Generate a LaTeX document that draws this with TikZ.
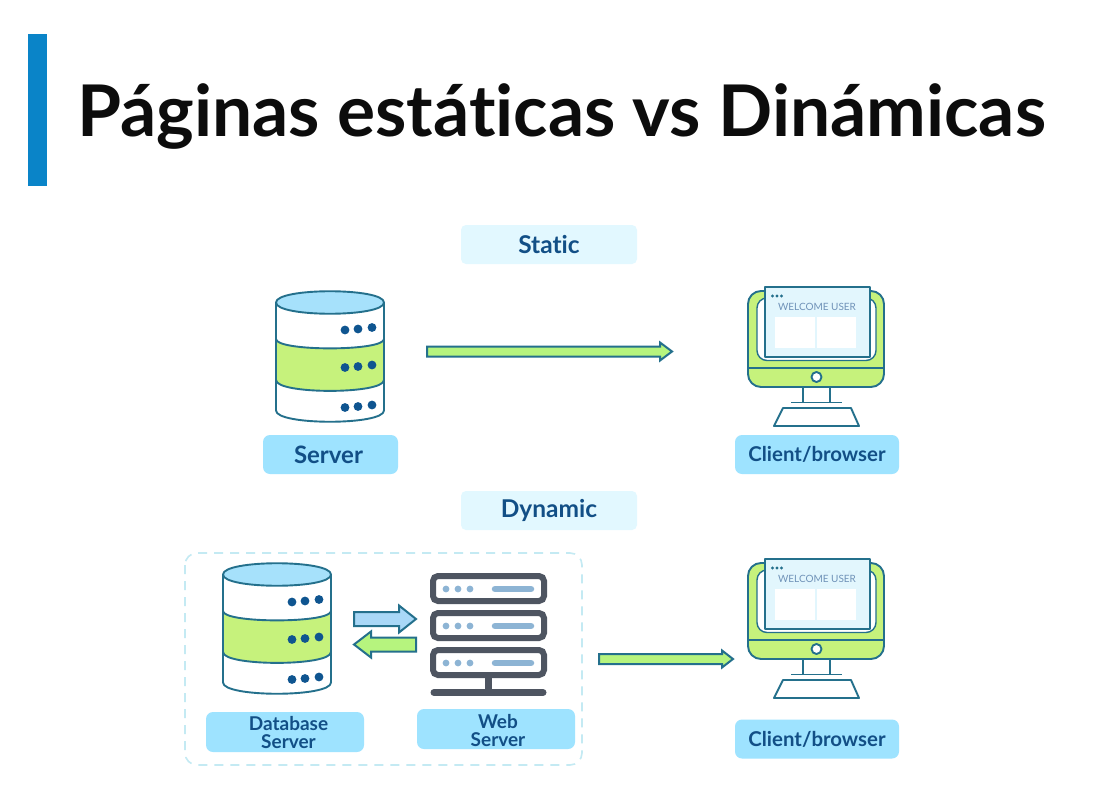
\documentclass[tikz,border=0pt]{standalone}
\usepackage{fontspec}
\setmainfont{Lato}[Ligatures=NoCommon]
\usetikzlibrary{calc}
\definecolor{barblue}{HTML}{0A84C8}
\definecolor{titleink}{HTML}{0C0C0C}
\definecolor{labelink}{HTML}{124F86}
\definecolor{palebox}{HTML}{E2F8FF}
\definecolor{skybox}{HTML}{9EE3FF}
\definecolor{limefill}{HTML}{C6F27C}
\definecolor{arrowlime}{HTML}{B6F47E}
\definecolor{tealline}{HTML}{24708C}
\definecolor{dotblue}{HTML}{0F5590}
\definecolor{topblue}{HTML}{A6E1FB}
\definecolor{dashline}{HTML}{C4EAF3}
\definecolor{rackgrey}{HTML}{4E5561}
\definecolor{rackblue}{HTML}{8DB4D4}
\definecolor{winfill}{HTML}{E2F6FD}
\definecolor{welcome}{HTML}{6F92B8}
\definecolor{arrowblue}{HTML}{A9D8F7}
\tikzset{
  palelabel/.style={fill=palebox,rounded corners=5pt,draw=none,text=labelink,font=\fontsize{24.5}{26}\selectfont\bfseries,minimum width=176pt,minimum height=39pt,inner sep=0pt},
  skylabel/.style={fill=skybox,rounded corners=7pt,draw=none,text=labelink,font=\fontsize{24}{26}\selectfont\bfseries,minimum height=39pt,inner sep=0pt},
  twobox/.style={fill=skybox,rounded corners=7pt,draw=none,minimum width=158pt,minimum height=40pt,inner sep=0pt},
  twotext/.style={text=labelink,align=center,font=\fontsize{19}{18}\selectfont\bfseries,inner sep=0pt},
  iconline/.style={draw=tealline,line width=1.9pt,line join=round},
  blockarrow/.style={draw=tealline,line width=2pt,line join=miter},
  dbdot/.style={fill=dotblue,draw=none},
  rack/.style={draw=rackgrey,fill=white,line width=6pt,rounded corners=5pt},
}
% block arrow between two named coordinates: style, from, to, shaft half, head half, head length
\newcommand{\blockconn}[6]{%
  \coordinate (hh) at ($(#3)!#6!(#2)$);
  \draw[#1] ($(#2)!#4!90:(#3)$) -- ($(hh)!#4!90:(#3)$) -- ($(hh)!#5!90:(#3)$) -- (#3)
    -- ($(hh)!#5!-90:(#3)$) -- ($(hh)!#4!-90:(#3)$) -- ($(#2)!#4!-90:(#3)$) -- cycle;
}
\newcommand{\dbicon}[2]{%
\begin{scope}[shift={(#1,#2)}]
  \path[fill=white] (0,0) -- (0,108) .. controls (0,123) and (108,123) .. (108,108) -- (108,0) -- cycle;
  \path[fill=limefill] (0,36.5) .. controls (0,49) and (108,49) .. (108,36.5) -- (108,77.5)
     .. controls (108,92) and (0,92) .. (0,77.5) -- cycle;
  \draw[iconline] (0,0) -- (0,108) .. controls (0,123) and (108,123) .. (108,108) -- (108,0);
  \draw[iconline] (0,36.5) .. controls (0,49) and (108,49) .. (108,36.5);
  \draw[iconline] (0,77.5) .. controls (0,92) and (108,92) .. (108,77.5);
  \draw[iconline,fill=topblue] (0,0) .. controls (0,-15) and (108,-15) .. (108,0)
     .. controls (108,15) and (0,15) .. (0,0) -- cycle;
  \foreach \yy in {0,37.5,77.5}{
    \fill[dbdot] (69,27.5+\yy) circle (4.4);
    \fill[dbdot] (82,26.5+\yy) circle (4.4);
    \fill[dbdot] (96,25+\yy) circle (4.4);
  }
\end{scope}}
\newcommand{\monitoricon}[2]{%
\begin{scope}[shift={(#1,#2)}]
  \draw[iconline,fill=limefill,rounded corners=13pt] (-17,4) rectangle (119,100);
  \draw[iconline,line width=1.4pt,fill=white,rounded corners=10pt] (-8,11) -- (111,11) -- (111,73.5) -- (-8,73.5) -- cycle;
  \draw[iconline,line width=1.6pt] (-17,81) -- (119,81);
  \draw[iconline,fill=winfill] (0,0) rectangle (105,70);
  \foreach \dx in {7.5,12,16.5} \fill[tealline] (\dx,9) circle (1.6);
  \node[text=welcome,font=\fontsize{10}{10}\selectfont,inner sep=0pt] (wt#1#2) at (52,20) {WELCOME USER};
  \fill[white] (10,30) rectangle (50,61);
  \fill[white] (52,30) rectangle (91,61);
  \draw[iconline,fill=white] (51.5,90) circle (5);
  \draw[iconline] (38,100) -- (38,115);
  \draw[iconline] (65,100) -- (65,115);
  \draw[iconline] (26,115.5) -- (77,115.5);
  \draw[iconline,fill=white] (18,121) -- (86,121) -- (94,139) -- (9,139) -- cycle;
\end{scope}}
\begin{document}
\begin{tikzpicture}[x=1pt,y=-1pt]
\useasboundingbox (0,0) rectangle (1106,800);
\fill[white] (0,0) rectangle (1106,800);
\fill[barblue] (28,34) rectangle (47,186);
\node[anchor=base west,inner sep=0pt,text=titleink,font=\fontsize{71.3}{80}\selectfont\bfseries] (title) at (77,136) {Páginas estáticas vs Dinámicas};

\node[palelabel] (static) at (549,244.5) {Static};
\node[palelabel] (dynamic) at (549,510.5) {Dynamic};

\dbicon{276}{302.5}
\node[skylabel,minimum width=135pt] (server) at (330.5,454.5) {\hspace*{-4pt}Server};
\monitoricon{765}{287}
\node[skylabel,minimum width=164pt,font=\fontsize{20.4}{24}\selectfont\bfseries] (client1) at (817,454.5) {Client/browser};

\coordinate (sa) at (427,351.5);
\coordinate (sb) at (672,351.5);
\blockconn{blockarrow,fill=arrowlime}{sa}{sb}{5pt}{9pt}{12pt}

% dynamic group
\draw[dashline,line width=1.6pt,dash pattern=on 9pt off 7pt,rounded corners=12pt] (185,553) rectangle (582,765);
\dbicon{223}{574.5}
\node[twobox] (dbl) at (285,732) {};
\node[twotext] (dbt) at (288.5,733) {Database\\Server};
\node[twobox] (webl) at (496,729) {};
\node[twotext] (webt) at (498,730.5) {Web\\Server};

\foreach \ry in {573,610,647}{
  \draw[rack] (433,\ry+3) rectangle (544,\ry+28);
  \foreach \dx in {446,458,470} \fill[rackblue] (\dx,\ry+16) circle (3.4);
  \draw[rackblue,line width=6.5pt,line cap=round] (495,\ry+16) -- (531,\ry+16);
}
\draw[rackgrey,line width=7pt] (488,677) -- (488,692);
\draw[rackgrey,line width=7pt,line cap=round] (434,692.5) -- (543,692.5);

\coordinate (ba) at (354,619);
\coordinate (bb) at (416,619);
\blockconn{blockarrow,fill=arrowblue}{ba}{bb}{7pt}{13.5pt}{17pt}
\coordinate (ga) at (416,644.5);
\coordinate (gb) at (354,644.5);
\blockconn{blockarrow,fill=arrowlime}{ga}{gb}{7pt}{13pt}{17pt}

\coordinate (da) at (599,659);
\coordinate (db) at (733,659);
\blockconn{blockarrow,fill=arrowlime}{da}{db}{5pt}{8.5pt}{11pt}

\monitoricon{765}{559}
\node[skylabel,minimum width=164pt,font=\fontsize{20.4}{24}\selectfont\bfseries] (client2) at (817,739) {Client/browser};
\end{tikzpicture}
\end{document}
